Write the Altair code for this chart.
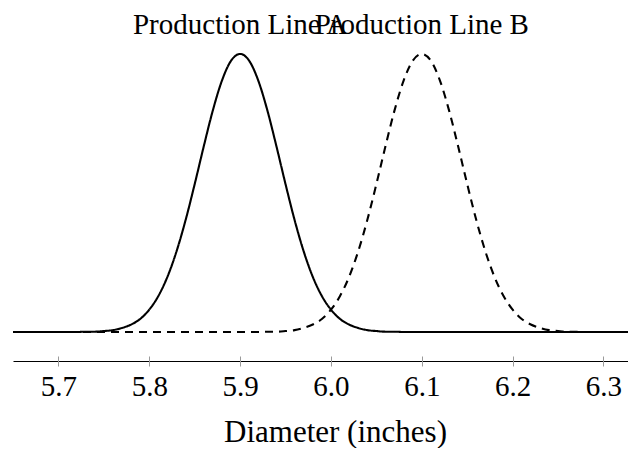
import altair as alt
import pandas as pd

# Diameter grid (inches)
x_vals = [5.65, 5.66, 5.67, 5.68, 5.69, 5.70, 5.71, 5.72, 5.73, 5.74,
          5.75, 5.76, 5.77, 5.78, 5.79, 5.80, 5.81, 5.82, 5.83, 5.84,
          5.85, 5.86, 5.87, 5.88, 5.89, 5.90, 5.91, 5.92, 5.93, 5.94,
          5.95, 5.96, 5.97, 5.98, 5.99, 6.00, 6.01, 6.02, 6.03, 6.04,
          6.05, 6.06, 6.07, 6.08, 6.09, 6.10, 6.11, 6.12, 6.13, 6.14,
          6.15, 6.16, 6.17, 6.18, 6.19, 6.20, 6.21, 6.22, 6.23, 6.24,
          6.25, 6.26, 6.27, 6.28, 6.29, 6.30, 6.31, 6.32, 6.33, 6.34]

# Density curve, Production Line A
line_a = [0, 0, 0, 0, 0, 0, 0, 0, 0.01, 0.01,
          0.03, 0.06, 0.13, 0.24, 0.42, 0.72, 1.16, 1.78, 2.60, 3.61,
          4.77, 5.99, 7.15, 8.11, 8.75, 8.97, 8.75, 8.11, 7.15, 5.99,
          4.77, 3.61, 2.60, 1.78, 1.16, 0.72, 0.42, 0.24, 0.13, 0.06,
          0.03, 0.01, 0.01, 0, 0, 0, 0, 0, 0, 0,
          0, 0, 0, 0, 0, 0, 0, 0, 0, 0,
          0, 0, 0, 0, 0, 0, 0, 0, 0, 0]

# Density curve, Production Line B
line_b = [0, 0, 0, 0, 0, 0, 0, 0, 0, 0,
          0, 0, 0, 0, 0, 0, 0, 0, 0, 0,
          0, 0, 0, 0, 0, 0, 0, 0, 0.01, 0.01,
          0.03, 0.06, 0.13, 0.24, 0.42, 0.72, 1.16, 1.78, 2.60, 3.61,
          4.77, 5.99, 7.15, 8.11, 8.75, 8.97, 8.75, 8.11, 7.15, 5.99,
          4.77, 3.61, 2.60, 1.78, 1.16, 0.72, 0.42, 0.24, 0.13, 0.06,
          0.03, 0.01, 0.01, 0, 0, 0, 0, 0, 0, 0]

series_names = ["Production Line A", "Production Line B"]
label_x = [5.9, 6.1]
label_y = [9.62, 9.62]
tick_values = [5.7, 5.8, 5.9, 6.0, 6.1, 6.2, 6.3]

df = pd.DataFrame({
    "x": x_vals + x_vals,
    "y": line_a + line_b,
    "series": [series_names[0]] * len(x_vals) + [series_names[1]] * len(x_vals),
})
labels_df = pd.DataFrame({"x": label_x, "y": label_y, "label": series_names})

FONT = "Liberation Serif"
x_scale = alt.Scale(domain=[5.65, 6.327], nice=False, zero=False)
y_scale = alt.Scale(domain=[-0.936, 9.42], nice=False, zero=False)

lines = alt.Chart(df).mark_line(
    clip=True, strokeWidth=2.1, color="black", interpolate="monotone"
).encode(
    x=alt.X("x:Q", scale=x_scale, axis=alt.Axis(
        orient="bottom", values=tick_values, format=".1f",
        domain=True, domainColor="black", domainWidth=1,
        ticks=False, tickSize=0, grid=False, labelFlush=False,
        labelFont=FONT, labelFontSize=29, labelColor="black",
        labelBaseline="alphabetic", labelPadding=34,
        title="Diameter (inches)", titleFont=FONT, titleFontSize=31,
        titleFontWeight="normal", titleColor="black",
        titleBaseline="alphabetic", titleY=80, titleX=322)),
    y=alt.Y("y:Q", scale=y_scale, axis=None),
    strokeDash=alt.StrokeDash("series:N", scale=alt.Scale(
        domain=series_names, range=[[1, 0], [8, 6]]), legend=None),
    detail="series:N",
)

texts = alt.Chart(labels_df).mark_text(
    font=FONT, fontSize=29, baseline="alphabetic", align="center", color="black"
).encode(
    x=alt.X("x:Q", scale=x_scale, axis=alt.Axis(
        orient="bottom", offset=-5, values=tick_values,
        domain=False, labels=False, title=None, grid=False,
        ticks=True, tickSize=10, tickColor="#9a9a9a", tickWidth=1)),
    y=alt.Y("y:Q", scale=y_scale, axis=None),
    text="label:N",
)

chart = alt.layer(lines, texts).resolve_axis(x="independent").properties(
    width=615, height=321,
    padding={"left": 5, "right": 0, "top": 32, "bottom": 87},
    autosize=alt.AutoSizeParams(type="none"),
    background="white",
).configure_view(stroke=None)

chart.save("out.html", embed_options={"renderer": "svg", "actions": False})
